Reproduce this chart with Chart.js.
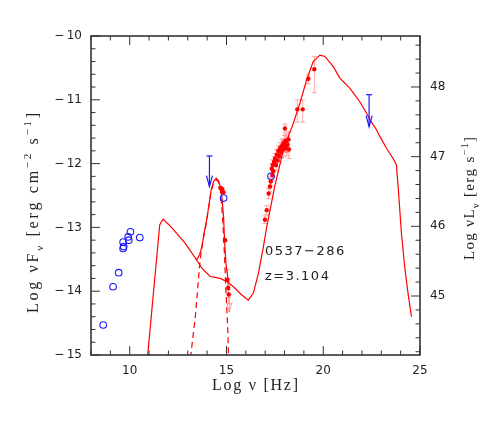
<!DOCTYPE html>
<html>
<head>
<meta charset="utf-8">
<script src="https://cdn.jsdelivr.net/npm/chart.js@4.4.1/dist/chart.umd.min.js"></script>
<style>
  body { margin: 0; background: #fff; }
  canvas { display: block; }
</style>
</head>
<body>
<canvas id="sed" width="491" height="436"></canvas>
<script>
// tick labels
const xTicks = [10, 15, 20, 25];
const yTicks = [-15, -14, -13, -12, -11, -10];
const lTicks = [45, 46, 47, 48];

// jet (non thermal) model
const jetX = [10.87, 11.55, 11.72, 12.0, 12.27, 12.87, 13.39, 13.73, 14.16, 14.68, 15.02, 15.36, 15.79, 16.13, 16.39, 16.65, 16.91, 17.08, 17.5, 17.94, 18.45, 18.8, 19.14, 19.48, 19.83, 20.09, 20.52, 20.86, 21.38, 21.89, 22.24, 22.41, 22.75, 22.92, 23.27, 23.61, 23.78, 23.87, 24.04, 24.21, 24.38, 24.56];
const jetY = [-15.2, -12.96, -12.87, -12.95, -13.04, -13.25, -13.48, -13.64, -13.77, -13.8, -13.85, -13.93, -14.06, -14.14, -14.03, -13.72, -13.3, -12.99, -12.35, -11.79, -11.37, -11.05, -10.69, -10.4, -10.3, -10.32, -10.48, -10.66, -10.82, -11.03, -11.21, -11.31, -11.47, -11.57, -11.76, -11.92, -12.02, -12.36, -13.09, -13.62, -14.03, -14.4];

// jet + disk
const totX = [13.39, 13.46, 13.62, 13.73, 13.85, 13.99, 14.21, 14.33, 14.47, 14.59, 14.68, 14.76, 14.85, 14.9, 14.97, 15.06, 15.12];
const totY = [-13.48, -13.51, -13.42, -13.3, -13.08, -12.86, -12.41, -12.28, -12.23, -12.27, -12.36, -12.52, -12.83, -13.2, -13.56, -13.77, -13.86];

// accretion disk
const diskX = [13.08, 13.39, 13.64, 13.8, 13.95, 14.2, 14.33, 14.47, 14.59, 14.68, 14.8, 14.9, 14.97, 15.07, 15.12];
const diskY = [-15.2, -14.4, -13.5, -13.18, -12.95, -12.45, -12.3, -12.25, -12.29, -12.4, -12.85, -13.45, -13.98, -14.61, -15.2];

// archival data (open circles)
const archX = [8.63, 9.14, 9.43, 9.66, 9.69, 9.66, 9.95, 9.92, 10.04, 10.52, 14.85, 17.3];
const archY = [-14.53, -13.93, -13.71, -13.33, -13.3, -13.23, -13.2, -13.15, -13.07, -13.16, -12.54, -12.2];

// optical / UV
const optX = [14.69, 14.78, 14.84, 14.93, 15.05, 15.09, 15.12];
const optY = [-12.38, -12.4, -12.45, -13.2, -13.82, -13.95, -14.05];
const optErr = [0.02, 0.02, 0.02, 0.02, 0.16, 0.15, 0.15];

// X-ray / gamma
const xrX = [16.99, 17.08, 17.18, 17.25, 17.29, 17.34, 17.37, 17.39, 17.42, 17.46, 17.51, 17.56, 17.6, 17.64, 17.68, 17.73, 17.77, 17.82, 17.86, 17.91, 17.94, 18.02, 18.0, 18.05, 18.08, 18.11, 18.15, 18.2, 18.23, 18.66, 18.94, 19.23, 19.54];
const xrY = [-12.88, -12.73, -12.47, -12.36, -12.28, -12.08, -12.18, -12.02, -12.12, -11.97, -11.92, -12.02, -11.86, -11.95, -11.8, -11.88, -11.76, -11.82, -11.73, -11.7, -11.78, -11.45, -11.66, -11.72, -11.64, -11.76, -11.7, -11.62, -11.78, -11.15, -11.15, -10.67, -10.52];
const xrErrLo = [0.06, 0.07, 0.08, 0.08, 0.07, 0.08, 0.09, 0.08, 0.09, 0.08, 0.08, 0.09, 0.08, 0.1, 0.08, 0.1, 0.09, 0.1, 0.1, 0.09, 0.12, 0.07, 0.1, 0.1, 0.1, 0.12, 0.12, 0.12, 0.14, 0.2, 0.2, 0.08, 0.37];
const xrErrHi = [0.06, 0.07, 0.08, 0.08, 0.07, 0.08, 0.09, 0.08, 0.09, 0.08, 0.08, 0.09, 0.08, 0.1, 0.08, 0.1, 0.09, 0.1, 0.1, 0.09, 0.12, 0.07, 0.1, 0.1, 0.1, 0.12, 0.12, 0.12, 0.14, 0.15, 0.15, 0.06, 0.2];

// upper limits
const ulX = [14.12, 22.37];
const ulTop = [-11.88, -10.92];
const ulTip = [-12.36, -11.42];
const uvUlX = [15.15];
const uvUlTop = [-14.05];
const uvUlTip = [-14.33];

const source = '0537−286';
const redshift = 'z=3.104';

const red = '#ff0000';
const pale = 'rgba(255, 40, 40, 0.4)';
const blue = '#1a1aff';
const ink = '#222';

const pts = (xs, ys) => xs.map((x, i) => ({ x: x, y: ys[i] }));
const fmt = v => v < 0 ? '−\u2009' + Math.abs(v) : String(v);

function seg(ctx, x1, y1, x2, y2) {
  ctx.beginPath(); ctx.moveTo(x1, y1); ctx.lineTo(x2, y2); ctx.stroke();
}

function errBars(ctx, sx, sy, xs, ys, lo, hi) {
  for (let i = 0; i < xs.length; i++) {
    const px = sx.getPixelForValue(xs[i]);
    const a = sy.getPixelForValue(ys[i] - lo[i]);
    const b = sy.getPixelForValue(ys[i] + hi[i]);
    seg(ctx, px, a, px, b);
    seg(ctx, px - 2.5, a, px + 2.5, a);
    seg(ctx, px - 2.5, b, px + 2.5, b);
  }
}

function upperLimits(ctx, sx, sy, xs, top, tip) {
  for (let i = 0; i < xs.length; i++) {
    const px = sx.getPixelForValue(xs[i]);
    const a = sy.getPixelForValue(top[i]);
    const b = sy.getPixelForValue(tip[i]);
    seg(ctx, px, a, px, b);
    seg(ctx, px - 3, a, px + 3, a);
    ctx.beginPath();
    ctx.moveTo(px - 3, b - 11); ctx.lineTo(px, b); ctx.lineTo(px + 3, b - 11);
    ctx.stroke();
  }
}

// text with sub/superscripts, spread to a given length
function drawRich(ctx, parts, x, y, angle, size, target) {
  ctx.save();
  ctx.translate(x, y);
  ctx.rotate(angle);
  ctx.fillStyle = ink;
  ctx.textBaseline = 'alphabetic';
  const fonts = parts.map(p => (p[1] ? Math.round(size * 0.68) : size) + 'px "Liberation Serif"');
  let w = 0, n = 0;
  parts.forEach((p, i) => {
    ctx.font = fonts[i];
    for (const ch of p[0]) { w += ctx.measureText(ch).width; n++; }
  });
  const sp = Math.max(0, (target - w) / (n - 1));
  let cx = 0;
  parts.forEach((p, i) => {
    ctx.font = fonts[i];
    const dy = p[1] === 'sub' ? size * 0.3 : p[1] === 'sup' ? -size * 0.42 : 0;
    for (const ch of p[0]) {
      ctx.fillText(ch, cx, dy);
      cx += ctx.measureText(ch).width + sp;
    }
  });
  ctx.restore();
}

const decor = {
  id: 'decor',
  beforeDatasetsDraw(chart) {
    const ctx = chart.ctx, sx = chart.scales.x, sy = chart.scales.y, a = chart.chartArea;
    ctx.save();
    ctx.beginPath(); ctx.rect(a.left, a.top, a.right - a.left, a.bottom - a.top); ctx.clip();
    ctx.strokeStyle = pale; ctx.lineWidth = 1;
    errBars(ctx, sx, sy, xrX, xrY, xrErrLo, xrErrHi);
    errBars(ctx, sx, sy, optX, optY, optErr, optErr);
    upperLimits(ctx, sx, sy, uvUlX, uvUlTop, uvUlTip);
    ctx.restore();
  },
  afterDraw(chart) {
    const ctx = chart.ctx, sx = chart.scales.x, sy = chart.scales.y, sl = chart.scales.y2, a = chart.chartArea;
    ctx.save();
    ctx.strokeStyle = blue; ctx.lineWidth = 1.2;
    upperLimits(ctx, sx, sy, ulX, ulTop, ulTip);

    // frame and inward ticks
    ctx.strokeStyle = '#333'; ctx.lineWidth = 1;
    for (let v = 8; v <= 25; v++) {
      const px = sx.getPixelForValue(v);
      const len = xTicks.includes(v) ? 9 : 4.5;
      seg(ctx, px, a.bottom, px, a.bottom - len);
      seg(ctx, px, a.top, px, a.top + len);
    }
    for (let k = 0; k <= 25; k++) {
      const py = sy.getPixelForValue(-15 + k * 0.2);
      seg(ctx, a.left, py, a.left + (k % 5 === 0 ? 9 : 4.5), py);
    }
    for (let k = 221; k <= 243; k++) {
      const py = sl.getPixelForValue(k / 5);
      seg(ctx, a.right, py, a.right - (k % 5 === 0 ? 9 : 4.5), py);
    }
    ctx.lineWidth = 1.6;
    ctx.strokeRect(a.left, a.top, a.right - a.left, a.bottom - a.top);

    // source name and redshift
    ctx.fillStyle = ink;
    ctx.font = '13px "DejaVu Sans"';
    ctx.letterSpacing = '1.5px';
    ctx.textBaseline = 'alphabetic';
    ctx.fillText(source, sx.getPixelForValue(16.99), sy.getPixelForValue(-13.44));
    ctx.fillText(redshift, sx.getPixelForValue(16.99), sy.getPixelForValue(-13.82));
    ctx.letterSpacing = '0px';
    ctx.restore();

    // axis titles
    drawRich(ctx, [['Log ν [Hz]']], 212, 389.5, 0, 16, 86);
    drawRich(ctx, [['Log νF'], ['ν', 'sub'], [' [erg cm'], ['−2', 'sup'], [' s'], ['−1', 'sup'], [']']], 38, 313, -Math.PI / 2, 16, 200);
    drawRich(ctx, [['Log νL'], ['ν', 'sub'], [' [erg s'], ['−1', 'sup'], [']']], 474, 260, -Math.PI / 2, 15, 123);
  }
};

const tickFont = { family: 'DejaVu Sans', size: 12 };

new Chart(document.getElementById('sed'), {
  type: 'scatter',
  data: {
    datasets: [
      { data: pts(xrX, xrY), pointRadius: 2.2, backgroundColor: red, borderWidth: 0 },
      { data: pts(optX, optY), pointRadius: 2.2, backgroundColor: red, borderWidth: 0 },
      { data: pts(archX, archY), pointRadius: 3.3, backgroundColor: 'rgba(0,0,0,0)', borderColor: blue, borderWidth: 1.1 },
      { data: pts(jetX, jetY), showLine: true, pointRadius: 0, borderColor: red, borderWidth: 1.2 },
      { data: pts(totX, totY), showLine: true, pointRadius: 0, borderColor: red, borderWidth: 1.2 },
      { data: pts(diskX, diskY), showLine: true, pointRadius: 0, borderColor: red, borderWidth: 1.2, borderDash: [6, 4] }
    ]
  },
  options: {
    responsive: false,
    animation: false,
    layout: { padding: { top: 36, left: 0, right: 0, bottom: 0 } },
    plugins: { legend: { display: false }, tooltip: { enabled: false } },
    scales: {
      x: {
        type: 'linear', position: 'bottom', min: 8, max: 25,
        afterBuildTicks: s => { s.ticks = xTicks.map(v => ({ value: v })); },
        afterFit: s => { s.height = 81; },
        grid: { display: false, drawTicks: false }, border: { display: false },
        ticks: { padding: 9, color: ink, font: tickFont, maxRotation: 0, callback: v => fmt(v) }
      },
      y: {
        type: 'linear', position: 'left', min: -15, max: -10,
        afterBuildTicks: s => { s.ticks = yTicks.map(v => ({ value: v })); },
        afterFit: s => { s.width = 91; },
        grid: { display: false, drawTicks: false }, border: { display: false },
        ticks: { padding: 9, color: ink, font: tickFont, callback: v => fmt(v) }
      },
      y2: {
        type: 'linear', position: 'right', min: 44.153, max: 48.732, display: true,
        afterBuildTicks: s => { s.ticks = lTicks.map(v => ({ value: v })); },
        afterFit: s => { s.width = 71; },
        grid: { display: false, drawTicks: false }, border: { display: false },
        ticks: { padding: 10, color: ink, font: tickFont, callback: v => fmt(v) }
      }
    }
  },
  plugins: [decor]
});
</script>
</body>
</html>
